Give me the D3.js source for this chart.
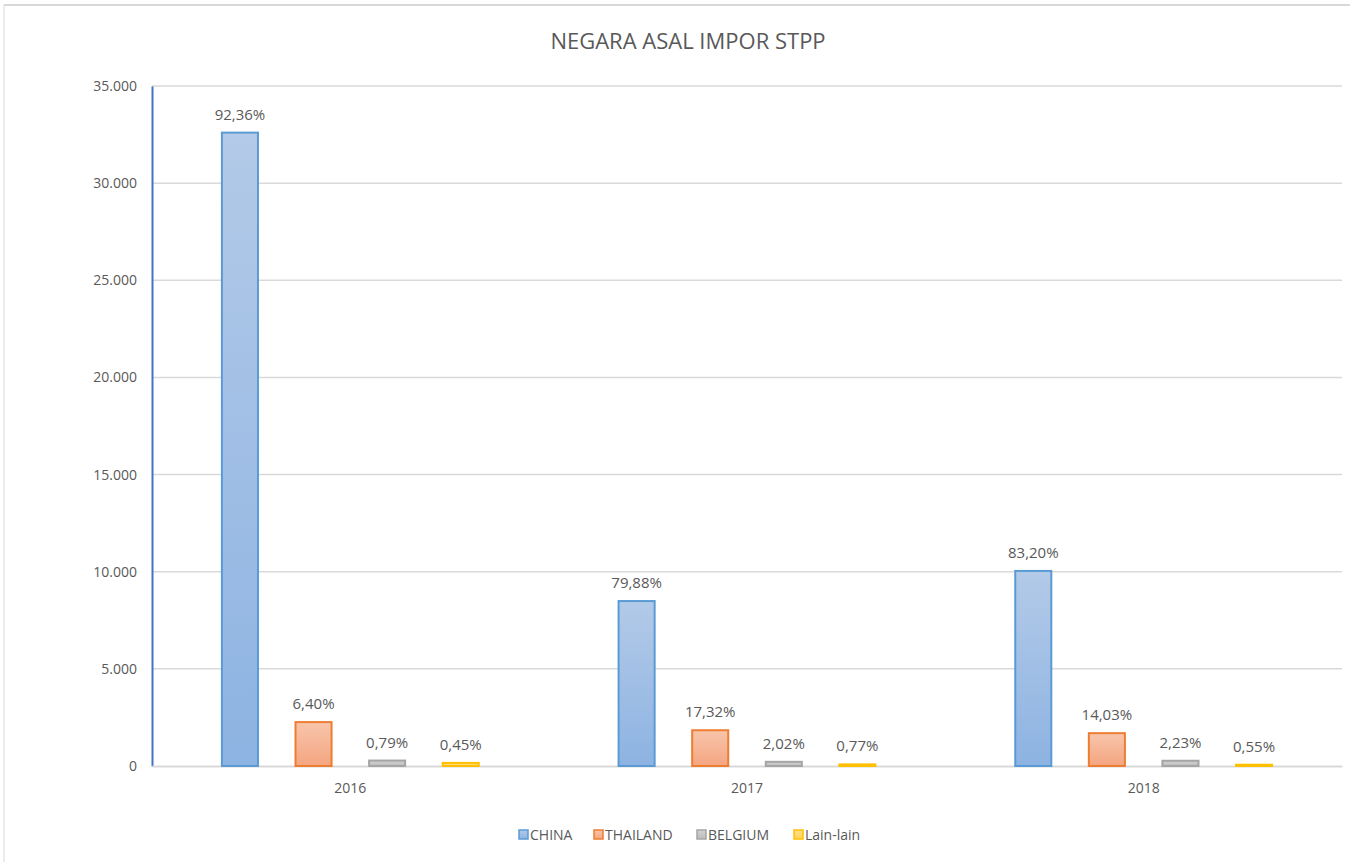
<html>
<head>
	<title>Negara asal impor STPP</title>
	<style>
		body {
			margin:0;
			padding:0;
			background:#fff;
			font-family:"Open Sans", sans-serif;
		}
		.grid line {
			stroke:#d9d9d9;
		}
		.tick text {
			fill:#595959;
		}
	</style>
</head>
<body>
	<svg width="1350" height="862"></svg>

	<script src="https://cdn.jsdelivr.net/npm/d3@7"></script>
	<script>

		// data
		var years = ["2016", "2017", "2018"];
		var countries = ["CHINA", "THAILAND", "BELGIUM", "Lain-lain"];
		var china = [32600, 8490, 10040];
		var thailand = [2260, 1840, 1690];
		var belgium = [280, 215, 270];
		var lainlain = [160, 82, 66];
		var shares = [
			["92,36%", "6,40%", "0,79%", "0,45%"],
			["79,88%", "17,32%", "2,02%", "0,77%"],
			["83,20%", "14,03%", "2,23%", "0,55%"]
		];
		var yTicks = [0, 5000, 10000, 15000, 20000, 25000, 30000, 35000];

		var series = [china, thailand, belgium, lainlain];
		var colors = [
			{ stroke: "#5b9bd5", top: "#b3cae8", bottom: "#8db3e2" },
			{ stroke: "#ed7d31", top: "#f8c5ab", bottom: "#f4a580" },
			{ stroke: "#a5a5a5", top: "#d2d2d2", bottom: "#bdbdbd" },
			{ stroke: "#ffc000", top: "#ffe08a", bottom: "#ffd25a" }
		];

		var plotLeft = 152, plotRight = 1342, plotTop = 86, plotBottom = 766;

		var svg = d3.select("svg");

		// outer frame lines
		svg.append("line").attr("x1", 4).attr("x2", 1350).attr("y1", 5).attr("y2", 5)
			.style("stroke", "#d9d9d9").style("stroke-width", 2);
		svg.append("line").attr("x1", 4).attr("x2", 4).attr("y1", 5).attr("y2", 862)
			.style("stroke", "#d9d9d9").style("stroke-width", 1);

		var defs = svg.append("defs");
		colors.forEach(function(c, i) {
			var g = defs.append("linearGradient").attr("id", "grad" + i)
				.attr("x1", 0).attr("x2", 0).attr("y1", 0).attr("y2", 1);
			g.append("stop").attr("offset", "0%").attr("stop-color", c.top);
			g.append("stop").attr("offset", "100%").attr("stop-color", c.bottom);
		});

		var x0 = d3.scaleBand().domain(years).range([plotLeft, plotRight]).padding(0);
		var x1 = d3.scaleBand().domain(countries).range([0, x0.bandwidth()])
			.paddingInner(0.51).paddingOuter(0.95);
		var y = d3.scaleLinear().domain([0, 35000]).range([plotBottom, plotTop]);

		var fmt = function(d) {
			return d3.format(",")(d).replace(/,/g, ".");
		};

		// gridlines
		svg.append("g")
			.attr("class", "grid")
			.selectAll("line")
			.data(yTicks.slice(1))
			.enter()
			.append("line")
			.attr("x1", plotLeft)
			.attr("x2", plotRight)
			.attr("y1", function(d) { return y(d); })
			.attr("y2", function(d) { return y(d); })
			.style("stroke-width", 1.5);

		// y axis
		var yAxis = svg.append("g")
			.attr("transform", "translate(" + plotLeft + ",0)")
			.call(d3.axisLeft(y).tickValues(yTicks).tickFormat(fmt).tickSize(0).tickPadding(15));
		yAxis.select(".domain").style("stroke", "#4472c4").style("stroke-width", 2);
		yAxis.selectAll(".tick text").style("font-size", "14px").style("font-family", "Open Sans");

		// x axis
		var xAxis = svg.append("g")
			.attr("transform", "translate(0," + plotBottom + ")")
			.call(d3.axisBottom(x0).tickSize(0).tickPadding(17));
		xAxis.select(".domain").style("stroke", "#d9d9d9").style("stroke-width", 2);
		xAxis.selectAll(".tick text").style("font-size", "14px").style("font-family", "Open Sans");

		// bars
		years.forEach(function(year, yi) {
			var group = svg.append("g")
				.attr("transform", "translate(" + x0(year) + ",0)");

			countries.forEach(function(country, ci) {
				var v = series[ci][yi];
				group.append("rect")
					.attr("x", x1(country))
					.attr("y", y(v))
					.attr("width", x1.bandwidth())
					.attr("height", plotBottom - y(v))
					.style("fill", "url(#grad" + ci + ")")
					.style("stroke", colors[ci].stroke)
					.style("stroke-width", 2);

				group.append("text")
					.attr("x", x1(country) + x1.bandwidth() / 2)
					.attr("y", y(v) - 13)
					.attr("text-anchor", "middle")
					.style("font-size", "15px")
					.style("fill", "#595959")
					.text(shares[yi][ci]);
			});
		});

		// title
		svg.append("text")
			.attr("x", 688)
			.attr("y", 49)
			.attr("text-anchor", "middle")
			.style("font-size", "22px")
			.style("fill", "#595959")
			.text("NEGARA ASAL IMPOR STPP");

		// legend
		var legendX = [519, 594, 697, 794];
		var legend = svg.append("g");
		countries.forEach(function(country, ci) {
			legend.append("rect")
				.attr("x", legendX[ci])
				.attr("y", 830)
				.attr("width", 9)
				.attr("height", 9)
				.style("fill", "url(#grad" + ci + ")")
				.style("stroke", colors[ci].stroke)
				.style("stroke-width", 1.5);
			legend.append("text")
				.attr("x", legendX[ci] + 11)
				.attr("y", 840)
				.style("font-size", "14px")
				.style("fill", "#595959")
				.text(country);
		});

	</script>
</body>
</html>
